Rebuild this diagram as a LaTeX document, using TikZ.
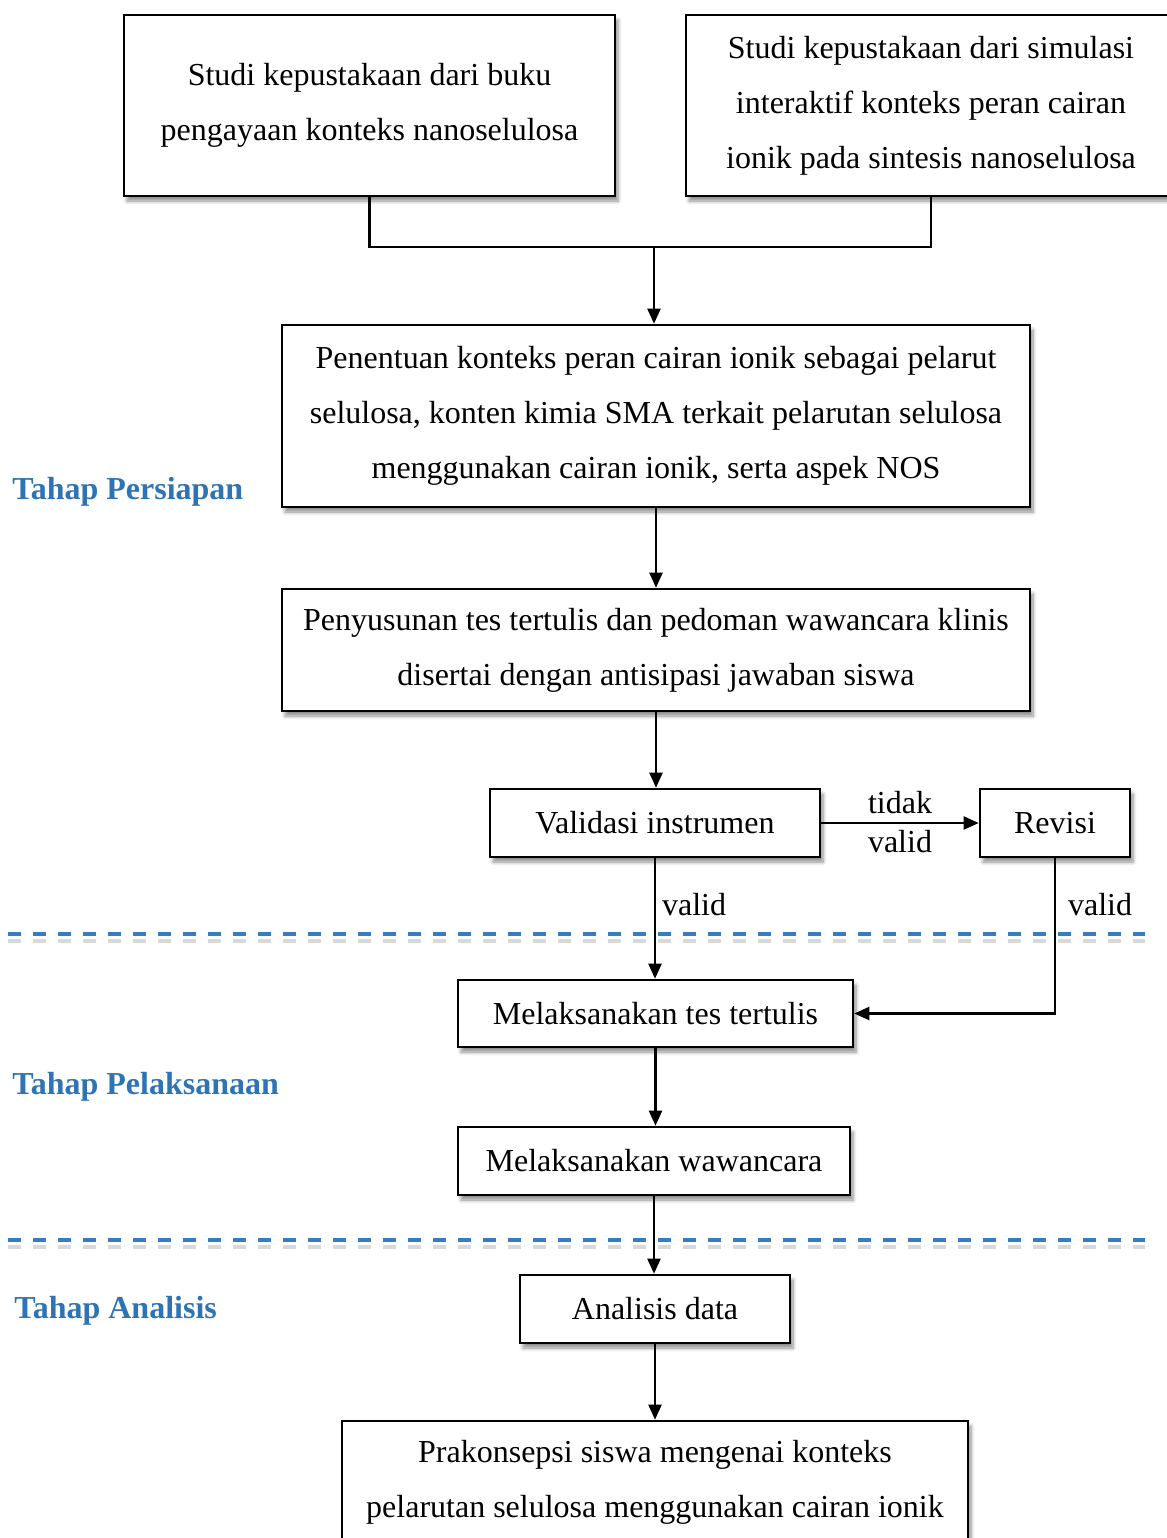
\documentclass[tikz,border=0pt]{standalone}
\usepackage{fontspec}
\setmainfont{Liberation Serif}
\usetikzlibrary{arrows.meta, positioning, shadows.blur}
\definecolor{tahapblue}{RGB}{46,116,181}
\definecolor{garisblue}{RGB}{52,125,195}

\begin{document}
\begin{tikzpicture}[x=0.5pt, y=-0.5pt,
            box/.style={draw, line width=1.3pt, fill=white, align=center, inner sep=0pt,
                font=\fontsize{16}{27.5}\selectfont,
                blur shadow={shadow xshift=1.5pt, shadow yshift=-2.5pt, shadow blur steps=6, shadow opacity=45}},
            arrow/.style={-{Triangle[length=7.5pt, width=6.5pt]}, line width=1.1pt},
            link/.style={line width=1.1pt},
            lbl/.style={font=\fontsize{16}{19}\selectfont, inner sep=3pt},
            stage/.style={anchor=west, inner sep=0pt, text=tahapblue, font=\fontsize{16}{19}\selectfont\bfseries},
            divider/.style={draw=garisblue, line width=1.7pt, dash pattern=on 6.5pt off 6pt},
            dividershadow/.style={draw=black!25, line width=2.4pt, dash pattern=on 6.5pt off 6pt, opacity=0.6}
        ]
        \useasboundingbox (0,0) rectangle (1167,1538);
        % garis pemisah tahap
        \draw[dividershadow] (8,941) -- (1145,941);
        \draw[divider] (8,934) -- (1145,934);
        \draw[dividershadow] (8,1247) -- (1145,1247);
        \draw[divider] (8,1240) -- (1145,1240);
        % tahap persiapan
        \node[box, minimum width=245.5pt, minimum height=90.5pt, text depth=4pt] (buku) at (369.5,105.5) {
            Studi kepustakaan dari buku \\
            pengayaan konteks nanoselulosa
        };
        \node[box, minimum width=245pt, minimum height=90.5pt] (simulasi) at (931,105.5) {
            Studi kepustakaan dari simulasi \\
            interaktif konteks peran cairan \\
            ionik pada sintesis nanoselulosa
        };
        \node[box, minimum width=374pt, minimum height=91pt] (konteks) at (656,416) {
            Penentuan konteks peran cairan ionik sebagai pelarut \\
            selulosa, konten kimia SMA terkait pelarutan selulosa \\
            menggunakan cairan ionik, serta aspek NOS
        };
        \node[box, minimum width=374pt, minimum height=61pt] (tes) at (656,650) {
            Penyusunan tes tertulis dan pedoman wawancara klinis \\
            disertai dengan antisipasi jawaban siswa
        };
        \node[box, minimum width=165pt, minimum height=34pt] (validasi) at (655,823) {Validasi instrumen};
        \node[box, minimum width=75pt, minimum height=34pt] (revisi) at (1055,823) {Revisi};
        % tahap pelaksanaan
        \node[box, minimum width=197.5pt, minimum height=33.5pt] (tertulis) at (655.5,1013.5) {Melaksanakan tes tertulis};
        \node[box, minimum width=196pt, minimum height=34pt] (wawancara) at (654,1161) {Melaksanakan wawancara};
        % tahap analisis
        \node[box, minimum width=135pt, minimum height=34pt] (analisis) at (655,1309) {Analisis data};
        \node[box, minimum width=313pt, minimum height=61pt] (prakonsepsi) at (655,1482) {
            Prakonsepsi siswa mengenai konteks \\
            pelarutan selulosa menggunakan cairan ionik
        };
        \node[stage] (persiapan) at (12,492) {Tahap Persiapan};
        \node[stage] (pelaksanaan) at (12,1087) {Tahap Pelaksanaan};
        \node[stage] (tanalisis) at (14,1311) {Tahap Analisis};
        % panah
        \coordinate (gabung) at (654,247);
        \draw[link] (buku.south) |- (gabung) -| (simulasi.south);
        \draw[arrow] (gabung) -- (gabung |- konteks.north);
        \draw[arrow] (konteks.south) -- (konteks.south |- tes.north);
        \draw[arrow] (tes.south) -- (tes.south |- validasi.north);
        \draw[arrow] (validasi.east) -- (revisi.west)
            node[lbl, midway, above, yshift=1pt] {tidak}
            node[lbl, midway, below] {valid};
        \draw[arrow] (validasi.south) -- (validasi.south |- tertulis.north)
            node[lbl, pos=0.38, right] {valid};
        \draw[arrow] (revisi.south) |- (tertulis.east)
            node[lbl, pos=0.15, right, xshift=3pt] {valid};
        \draw[arrow] (tertulis.south) -- (tertulis.south |- wawancara.north);
        \draw[arrow] (wawancara.south) -- (wawancara.south |- analisis.north);
        \draw[arrow] (analisis.south) -- (analisis.south |- prakonsepsi.north);
        \end{tikzpicture}
\end{document}
